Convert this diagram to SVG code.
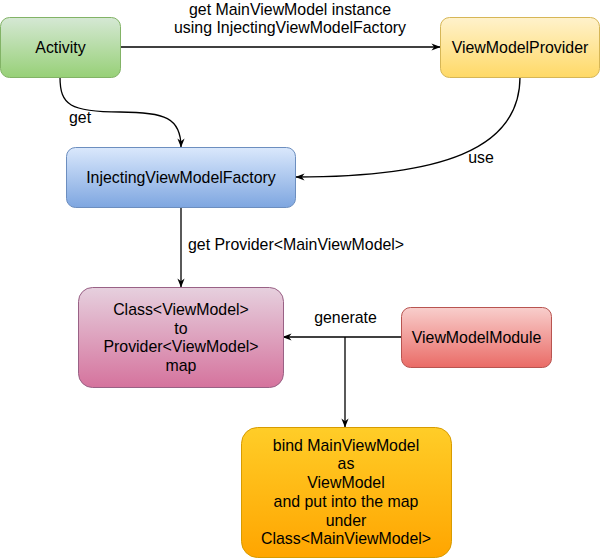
<svg xmlns="http://www.w3.org/2000/svg" width="601" height="558" viewBox="0 0 601 558">
<style>
text{font-family:"Liberation Sans",Arial,Helvetica,sans-serif;font-size:15.9px;fill:#000;text-anchor:middle}
.edge{fill:none;stroke:#000;stroke-width:1.3}
</style>
<defs>
<linearGradient id="gGreen" x1="0" y1="0" x2="0" y2="1"><stop offset="0" stop-color="#d5e8d4"/><stop offset="1" stop-color="#97d077"/></linearGradient>
<linearGradient id="gYellow" x1="0" y1="0" x2="0" y2="1"><stop offset="0" stop-color="#fff2cc"/><stop offset="1" stop-color="#ffd966"/></linearGradient>
<linearGradient id="gBlue" x1="0" y1="0" x2="0" y2="1"><stop offset="0" stop-color="#dae8fc"/><stop offset="1" stop-color="#7ea6e0"/></linearGradient>
<linearGradient id="gPink" x1="0" y1="0" x2="0" y2="1"><stop offset="0" stop-color="#e6d0de"/><stop offset="1" stop-color="#d5739d"/></linearGradient>
<linearGradient id="gRed" x1="0" y1="0" x2="0" y2="1"><stop offset="0" stop-color="#f8cecc"/><stop offset="1" stop-color="#ea6b66"/></linearGradient>
<linearGradient id="gOrange" x1="0" y1="0" x2="0" y2="1"><stop offset="0" stop-color="#ffcd28"/><stop offset="1" stop-color="#ffa500"/></linearGradient>
<marker id="arr" viewBox="0 0 10 10" markerWidth="9" markerHeight="9" refX="9.5" refY="5" orient="auto" markerUnits="userSpaceOnUse">
<path d="M0,1 L10,5 L0,9 L3,5 z" fill="#000"/>
</marker>
</defs>

<g id="connectors">
<path class="edge" d="M120 47 L440 47" marker-end="url(#arr)"/>
<path class="edge" d="M60 77 C60 105 70 112 120 112 C165 112 181 118 181 147" marker-end="url(#arr)"/>
<path class="edge" d="M520 77 C520 150 440 177 296 177" marker-end="url(#arr)"/>
<path class="edge" d="M181 207 L181 287" marker-end="url(#arr)"/>
<path class="edge" d="M401 337 L283 337" marker-end="url(#arr)"/>
<path class="edge" d="M345 337 L345 427" marker-end="url(#arr)"/>
<text x="290" y="15">get MainViewModel instance</text>
<text x="290" y="33">using InjectingViewModelFactory</text>
<text x="80" y="123">get</text>
<text x="481" y="163">use</text>
<text x="188" y="250" style="text-anchor:start">get Provider&lt;MainViewModel&gt;</text>
<text x="345.5" y="323">generate</text>
</g>

<g id="activity">
<rect x="0.5" y="17.5" width="120" height="60" rx="9" fill="url(#gGreen)" stroke="#82b366"/>
<text x="60.5" y="53">Activity</text>
</g>

<g id="viewModelProvider">
<rect x="440.5" y="17.5" width="159" height="60" rx="9" fill="url(#gYellow)" stroke="#d6b656"/>
<text x="520" y="53">ViewModelProvider</text>
</g>

<g id="injectingViewModelFactory">
<rect x="66.5" y="147.5" width="229" height="60" rx="9" fill="url(#gBlue)" stroke="#6c8ebf"/>
<text x="181" y="183">InjectingViewModelFactory</text>
</g>

<g id="map">
<rect x="78.5" y="287.5" width="205" height="100" rx="14" fill="url(#gPink)" stroke="#996185"/>
<text x="181" y="315">Class&lt;ViewModel&gt;</text>
<text x="181" y="333.7">to</text>
<text x="181" y="352.4">Provider&lt;ViewModel&gt;</text>
<text x="181" y="371">map</text>
</g>

<g id="viewModelModule">
<rect x="401.5" y="307.5" width="150" height="60" rx="9" fill="url(#gRed)" stroke="#b85450"/>
<text x="476.5" y="343">ViewModelModule</text>
</g>

<g id="bind">
<rect x="241.5" y="427.5" width="210" height="130" rx="16" fill="url(#gOrange)" stroke="#d79b00"/>
<text x="346" y="450.5">bind MainViewModel</text>
<text x="346" y="469.3">as</text>
<text x="346" y="488">ViewModel</text>
<text x="346" y="506.8">and put into the map</text>
<text x="346" y="525.5">under</text>
<text x="346" y="544.3">Class&lt;MainViewModel&gt;</text>
</g>
</svg>
